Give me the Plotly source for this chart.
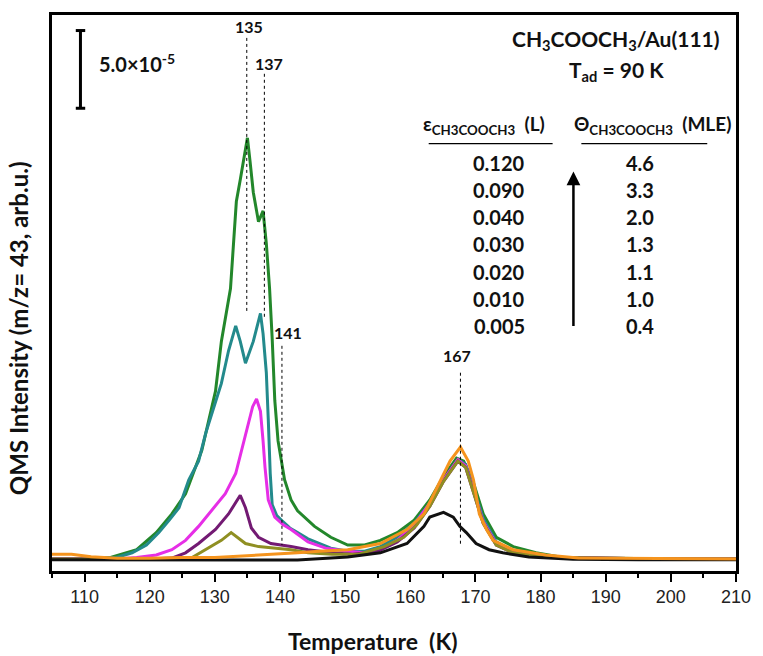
import plotly.graph_objects as go

# ---------------- data ----------------
T_green = [105, 110, 114, 118, 121, 123.4, 125.5, 128, 130.1, 131, 132.4, 133.0, 133.3, 133.9, 134.4, 135.0,
           135.4, 135.9, 136.7, 137.4, 137.9, 138.4, 138.8, 139.2, 139.7, 140.7, 141.7, 142.7, 145.3, 147.8,
           150.4, 153, 155.4, 158, 160.6, 163, 165.1, 167.1, 168.2, 169.7, 171.2, 173.2, 175.8, 179.3, 183.4,
           190, 200, 210]
I_green = [0.0, 0.0, 0.1, 0.6, 1.7, 2.9, 4.2, 7.0, 10.8, 14.0, 17.4, 21.0, 23.0, 24.4, 25.6, 27.1,
           25.6, 23.6, 21.7, 22.4, 20.3, 17.4, 14.2, 10.2, 7.6, 5.1, 3.8, 3.1, 2.1, 1.4,
           0.9, 0.9, 1.2, 1.7, 2.5, 3.8, 5.3, 6.5, 6.3, 4.9, 2.9, 1.4, 0.8, 0.4, 0.1,
           0.05, 0.0, 0.0]

T_teal = [105, 110, 114.9, 117.3, 119.5, 121.4, 123, 124.5, 126, 127.5, 128.6, 130.1, 131, 132.1, 133.2,
          133.9, 134.7, 135.9, 137.0, 137.4, 137.9, 138.2, 138.5, 138.8, 139.5, 140.2, 141.5, 142.7, 144.3,
          146, 147.8, 150.4, 153, 155.4, 158, 160.6, 163, 165.1, 167.3, 168.5, 169.7, 171.2, 173.2, 175.8,
          179.3, 183.4, 190, 200, 210]
I_teal = [0, 0, 0.1, 0.4, 0.9, 1.7, 2.5, 3.3, 5.1, 6.3, 8.1, 10.2, 11.3, 13.4, 15.0,
          14.0, 12.6, 14.0, 15.8, 14.5, 12.0, 9.0, 5.5, 3.5, 2.8, 2.5, 2.0, 1.7, 1.3,
          1.0, 0.7, 0.5, 0.5, 0.8, 1.4, 2.3, 3.6, 5.1, 6.4, 6.1, 4.6, 2.6, 1.1, 0.5,
          0.2, 0.1, 0.05, 0, 0]

T_magenta = [105, 110, 115, 118, 121, 123.4, 125.5, 127.5, 129.5, 131.6, 133.2, 134.1, 135.1, 135.8, 136.4,
             137.0, 137.4, 137.7, 138.2, 139.2, 140.5, 141.7, 144.3, 147, 150.4, 153, 155.4, 158, 160.6,
             163, 165.1, 167.3, 168.5, 169.7, 171.2, 173.2, 175.8, 179.3, 183.4, 190, 200, 210]
I_magenta = [0, 0, 0, 0.1, 0.26, 0.6, 1.2, 2.1, 3.1, 4.2, 5.5, 7.0, 8.5, 9.8, 10.3,
             9.5, 7.6, 5.9, 3.8, 2.7, 2.2, 1.9, 1.1, 0.7, 0.5, 0.4, 0.6, 1.2, 2.2,
             3.6, 5.1, 6.4, 6.0, 4.4, 2.4, 1.0, 0.5, 0.2, 0.1, 0.05, 0, 0]

T_purple = [105, 115, 120, 123.4, 125.5, 127.5, 130.1, 132.1, 133.2, 133.9, 134.7, 135.6, 136.7, 138.6,
            141.7, 144.3, 148, 151, 155, 158, 160.6, 163, 165.1, 167.3, 168.5, 169.7, 171.2, 173.2, 175.8,
            179.3, 183.4, 190, 200, 210]
I_purple = [0, 0, 0, 0.06, 0.4, 1.0, 1.9, 2.9, 3.6, 4.1, 3.3, 2.0, 1.4, 1.0,
            0.8, 0.6, 0.4, 0.3, 0.5, 1.1, 2.0, 3.4, 5.0, 6.3, 5.9, 4.3, 2.3, 0.9, 0.4,
            0.2, 0.1, 0.05, 0, 0]

T_olive = [105, 115, 122, 126.5, 128, 129.5, 131, 132.5, 133.6, 134.7, 136.7, 139.2, 141.7, 144.3, 148,
           152, 156, 159, 161, 163, 165.1, 167.3, 168.5, 169.7, 171.2, 173.2, 175.8, 179.3, 183.4, 190,
           200, 210]
I_olive = [0, 0, 0, 0.1, 0.45, 0.8, 1.2, 1.7, 1.35, 1.0, 0.8, 0.7, 0.6, 0.4, 0.3,
           0.3, 0.8, 1.4, 2.2, 3.4, 5.0, 6.3, 5.9, 4.3, 2.3, 0.9, 0.4, 0.2, 0.1, 0.05,
           0, 0]

T_orange = [105, 108, 111, 115, 120, 125, 130, 135, 140, 142.7, 146, 150.4, 155.4, 159.5, 162.1, 164.1,
            166.1, 167.7, 168.9, 169.7, 170.6, 171.7, 172.7, 175.8, 180.8, 185.8, 190, 200, 210]
I_orange = [0.3, 0.3, 0.15, 0.05, 0.05, 0.1, 0.1, 0.2, 0.3, 0.4, 0.5, 0.6, 1.0, 1.9, 2.9, 4.6,
            6.3, 7.2, 6.3, 5.1, 2.9, 1.9, 1.2, 0.6, 0.26, 0.06, 0.05, 0, 0]

T_black = [105, 115, 125, 135, 142.7, 150.4, 155.4, 159.5, 162.1, 163, 165.1, 166.6, 167.6, 168.6, 170.1,
           172.1, 174.2, 178.2, 185, 195, 210]
I_black = [-0.05, -0.05, -0.05, -0.05, -0.06, 0.13, 0.4, 1.0, 2.1, 2.7, 3.0, 2.7, 2.1, 1.7, 1.0,
           0.6, 0.4, 0.13, -0.02, -0.05, -0.05]

exposures = ["0.120", "0.090", "0.040", "0.030", "0.020", "0.010", "0.005"]
coverages = ["4.6", "3.3", "2.0", "1.3", "1.1", "1.0", "0.4"]
peak_labels = ["135", "137", "141", "167"]
peak_T = [134.9, 137.6, 140.3, 167.7]
scale_bar = 5.0  # in units of 1e-5

# ---------------- layout geometry ----------------
W, H = 763, 656
L, R, TOP, BOT = 52, 742, 13, 571


def px(x):
    return (x - L) / (R - L)


def py(y):
    return (BOT - y) / (BOT - TOP)


FONT = "Lato, Carlito, Calibri, sans-serif"

fig = go.Figure()
series = [
    (T_green, I_green, "#23872b"),
    (T_teal, I_teal, "#238a8c"),
    (T_magenta, I_magenta, "#e62ee6"),
    (T_purple, I_purple, "#731a73"),
    (T_olive, I_olive, "#8f8f22"),
    (T_black, I_black, "#111111"),
    (T_orange, I_orange, "#f5941e"),
]
for tx, iy, col in series:
    fig.add_trace(go.Scatter(x=tx, y=iy, mode="lines", line=dict(color=col, width=3),
                             hoverinfo="skip"))

shapes = []
# dashed peak markers
dash_spans = [(36, 310), (72, 318), (345, 545), (372, 545)]
for t, (y0, y1) in zip(peak_T, dash_spans):
    shapes.append(dict(type="line", xref="x", yref="paper", x0=t, x1=t, y0=py(y0), y1=py(y1),
                       line=dict(color="black", width=1, dash="3px,3px")))
# scale bar (data units)
sb_x = px(80.7)
sb_bottom = 29.0
shapes.append(dict(type="line", xref="paper", yref="y", x0=sb_x, x1=sb_x, y0=sb_bottom,
                   y1=sb_bottom + scale_bar, line=dict(color="black", width=3)))
for yy in (sb_bottom, sb_bottom + scale_bar):
    shapes.append(dict(type="line", xref="paper", yref="y", x0=px(76), x1=px(85.5), y0=yy, y1=yy,
                       line=dict(color="black", width=3)))
# table underlines
for x0, x1 in [(432, 557), (586, 713)]:
    shapes.append(dict(type="line", xref="paper", yref="paper", x0=px(x0), x1=px(x1), y0=py(142),
                       y1=py(142), line=dict(color="black", width=1.2)))

ann = []


def text(x, y, s, size, bold=True, xanchor="center", family=FONT, angle=0):
    ann.append(dict(x=px(x), y=py(y), xref="paper", yref="paper", text=("<b>%s</b>" % s) if bold else s,
                    showarrow=False, xanchor=xanchor, yanchor="middle", textangle=angle,
                    font=dict(family=family, size=size, color="#111111")))


# peak labels
for lab, (x, y) in zip(peak_labels, [(251, 25), (271, 62), (290, 332), (461, 355)]):
    text(x, y, lab, 16)

text(138, 61, "5.0×10<sup>-5</sup>", 20)
text(621, 38, "CH<sub>3</sub>COOCH<sub>3</sub>/Au(111)", 21)
text(621, 69, "T<sub>ad</sub> = 90 K", 21)
text(488, 123, "ε<sub>CH3COOCH3</sub>  (L)", 19)
text(658, 123, "Θ<sub>CH3COOCH3</sub>  (MLE)", 19)
row_y = [162, 189, 216, 243, 271, 298, 325]
for e, c, y in zip(exposures, coverages, row_y):
    text(503, y, e, 20)
    text(645, y, c, 20)

# arrow
ann.append(dict(x=px(578), y=py(170), xref="paper", yref="paper", ax=0, ay=156,
                text="", showarrow=True, arrowhead=2, arrowsize=1.1,
                arrowwidth=2.5, arrowcolor="black"))

# axis titles
text(376, 641, "Temperature  (K)", 23)
text(19, 327, "QMS Intensity (m/z= 43, arb.u.)", 24, angle=-90)

fig.update_layout(
    width=W, height=H,
    margin=dict(l=L, r=W - R, t=TOP, b=H - BOT),
    plot_bgcolor="white", paper_bgcolor="white", showlegend=False,
    xaxis=dict(range=[105, 210], showline=True, mirror=True, linecolor="black", linewidth=2.5,
               ticks="outside", ticklen=8, tickwidth=2, tickcolor="black", tick0=110, dtick=10,
               minor=dict(dtick=5, tick0=105, ticks="outside", ticklen=4, tickwidth=2, tickcolor="black"),
               showgrid=False, zeroline=False,
               tickfont=dict(family="Liberation Sans, Arial, sans-serif", size=18, color="#222222")),
    yaxis=dict(range=[-0.77, 35.0], showline=True, mirror=True, linecolor="black", linewidth=2.5,
               showticklabels=False, ticks="", showgrid=False, zeroline=False),
    shapes=shapes, annotations=ann,
)

fig.write_html("out.html", config={"displayModeBar": False})
